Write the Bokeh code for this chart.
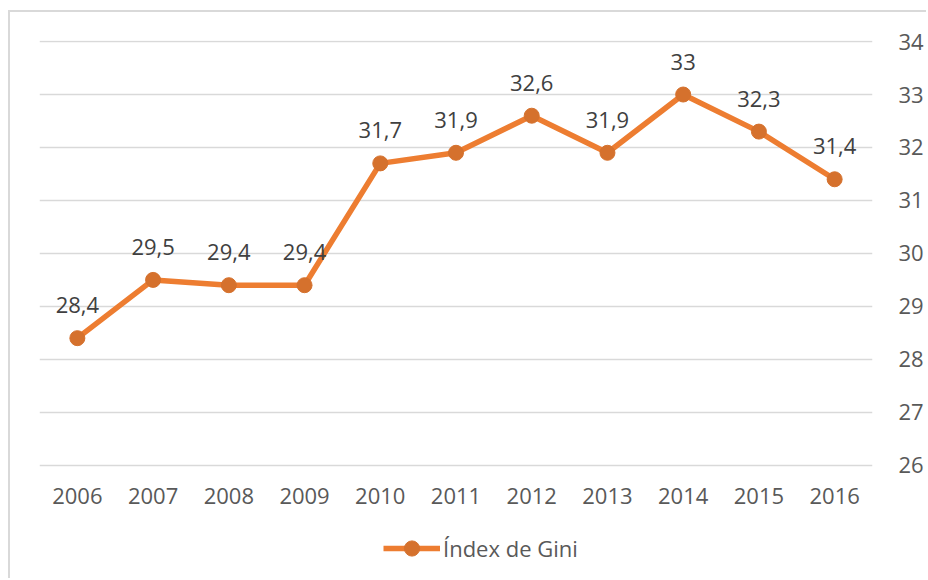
from bokeh.plotting import figure
from bokeh.models import (ColumnDataSource, FactorRange, Range1d, FixedTicker,
                          LabelSet, Legend, LegendItem)
from bokeh.core.properties import value
from bokeh.embed import file_html
from bokeh.resources import INLINE

years = ["2006", "2007", "2008", "2009", "2010", "2011", "2012", "2013", "2014", "2015", "2016"]
gini = [28.4, 29.5, 29.4, 29.4, 31.7, 31.9, 32.6, 31.9, 33.0, 32.3, 31.4]
y_ticks = [26, 27, 28, 29, 30, 31, 32, 33, 34]
series_name = "Índex de Gini"

labels = [f"{v:g}".replace(".", ",") for v in gini]
src = ColumnDataSource(dict(x=years, y=gini, lab=labels, base=[y_ticks[0]] * len(years)))

FONT = "Open Sans"
LINE = "#ED7D31"
MARK = "#D5712D"

# frame extends below the lowest gridline to host the category labels and legend
p = figure(width=926, height=578, x_range=FactorRange(*years),
           y_range=Range1d(y_ticks[0] - 2.1, y_ticks[-1] + 0.02),
           y_axis_location="right", output_backend="svg", toolbar_location=None,
           min_border_left=39, min_border_top=40, min_border_right=52, min_border_bottom=2)
p.styles = {
    "background": ("linear-gradient(#d9d9d9,#d9d9d9) 8px 10px / 2px 100% no-repeat, "
                   "linear-gradient(#d9d9d9,#d9d9d9) 8px 10px / 100% 2px no-repeat, white"),
}
p.outline_line_color = None
p.background_fill_color = None
p.border_fill_color = None

p.xaxis.visible = False
p.xgrid.grid_line_color = None
p.ygrid.grid_line_color = "#D9D9D9"
p.ygrid.grid_line_width = 1.5
p.yaxis.ticker = FixedTicker(ticks=y_ticks)

ax = p.yaxis[0]
ax.axis_line_color = None
ax.major_tick_line_color = None
ax.minor_tick_line_color = None
ax.major_tick_out = 0
ax.major_tick_in = 0
ax.minor_tick_out = 0
ax.major_label_text_font = FONT
ax.major_label_text_font_size = "22px"
ax.major_label_text_color = "#595959"
ax.major_label_standoff = 26

ln = p.line("x", "y", source=src, line_color=LINE, line_width=5.5, line_join="round")
sc = p.scatter("x", "y", source=src, size=15, fill_color=MARK, line_color=MARK)

lbl = LabelSet(x="x", y="y", text="lab", source=src, y_offset=33,
               text_align="center", text_baseline="middle",
               text_font=value(FONT), text_font_size="22px", text_color="#404040")
p.add_layout(lbl)

cat = LabelSet(x="x", y="base", text="x", source=src, y_offset=-31,
               text_align="center", text_baseline="middle",
               text_font=value(FONT), text_font_size="22px", text_color="#595959")
p.add_layout(cat)

legend = Legend(items=[LegendItem(label=series_name, renderers=[ln, sc])],
                location=(344, 9), orientation="horizontal",
                glyph_width=57, glyph_height=38, label_height=21, label_standoff=3,
                padding=0, margin=0, spacing=0,
                border_line_color=None, background_fill_alpha=0,
                label_text_font=FONT, label_text_font_size="22px",
                label_text_color="#595959")
p.add_layout(legend, "center")

open("out.html", "w").write(file_html(p, INLINE))
